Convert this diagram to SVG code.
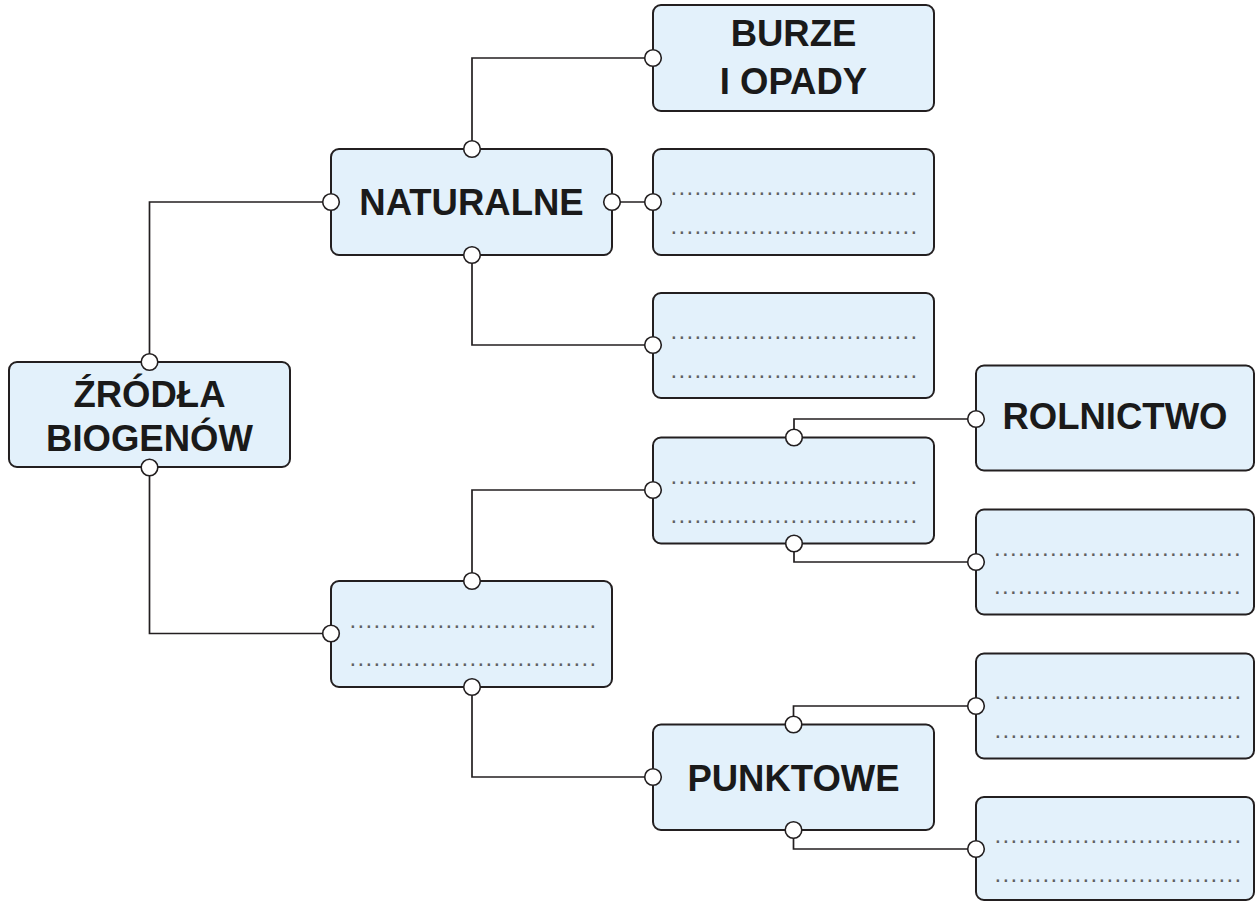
<svg xmlns="http://www.w3.org/2000/svg" width="1255" height="902" viewBox="0 0 1255 902">
<style>
.box{fill:#e3f1fb;stroke:#231f20;stroke-width:2}
.lbl{font-family:"Liberation Sans",Arial,sans-serif;font-weight:bold;font-size:36.5px;fill:#1a1a1a;text-anchor:middle}
.dots{font-family:"Liberation Sans",Arial,sans-serif;font-size:24px;fill:#5f6062;letter-spacing:1.33px}
.ln{fill:none;stroke:#231f20;stroke-width:1.7}
.pt{fill:#fff;stroke:#231f20;stroke-width:1.6}
</style>
<rect width="1255" height="902" fill="#fff"/>
<g id="n-zrodla">
<rect class="box" x="9" y="362" width="281" height="105" rx="8"/>
<text class="lbl" x="149.5" y="407">ŹRÓDŁA</text>
<text class="lbl" x="149.5" y="450.5">BIOGENÓW</text>
</g>
<g id="n-naturalne">
<rect class="box" x="331" y="149" width="281" height="106" rx="8"/>
<text class="lbl" x="471.5" y="214.5">NATURALNE</text>
</g>
<g id="n-burze">
<rect class="box" x="653" y="5" width="281" height="106" rx="8"/>
<text class="lbl" x="793.5" y="46">BURZE</text>
<text class="lbl" x="793.5" y="94">I OPADY</text>
</g>
<g id="n-nat2">
<rect class="box" x="653" y="149" width="281" height="106" rx="8"/>
<text class="dots" x="670.5" y="195">...............................</text>
<text class="dots" x="670.5" y="234">...............................</text>
</g>
<g id="n-nat3">
<rect class="box" x="653" y="293" width="281" height="105" rx="8"/>
<text class="dots" x="670.5" y="339">...............................</text>
<text class="dots" x="670.5" y="378">...............................</text>
</g>
<g id="n-obsz">
<rect class="box" x="653" y="437.5" width="281" height="106" rx="8"/>
<text class="dots" x="670.5" y="483.5">...............................</text>
<text class="dots" x="670.5" y="522.5">...............................</text>
</g>
<g id="n-rolnictwo">
<rect class="box" x="976" y="365.5" width="278" height="105" rx="8"/>
<text class="lbl" x="1115" y="428.5">ROLNICTWO</text>
</g>
<g id="n-obsz2">
<rect class="box" x="976" y="509.5" width="278" height="105" rx="8"/>
<text class="dots" x="994" y="555.5">...............................</text>
<text class="dots" x="994" y="594">...............................</text>
</g>
<g id="n-antrop">
<rect class="box" x="331" y="581" width="281" height="106" rx="8"/>
<text class="dots" x="349.5" y="628">...............................</text>
<text class="dots" x="349.5" y="665.5">...............................</text>
</g>
<g id="n-punktowe">
<rect class="box" x="653" y="724.5" width="281" height="105.5" rx="8"/>
<text class="lbl" x="793.5" y="791">PUNKTOWE</text>
</g>
<g id="n-punkt1">
<rect class="box" x="976" y="653.5" width="278" height="105" rx="8"/>
<text class="dots" x="994.5" y="699">...............................</text>
<text class="dots" x="994.5" y="738">...............................</text>
</g>
<g id="n-punkt2">
<rect class="box" x="976" y="797" width="278" height="103" rx="8"/>
<text class="dots" x="994.5" y="843">...............................</text>
<text class="dots" x="994.5" y="882">...............................</text>
</g>
<g id="connectors">
<polyline class="ln" points="149.5,362 149.5,202 331,202"/>
<polyline class="ln" points="149.5,467.5 149.5,633.5 331,633.5"/>
<polyline class="ln" points="472,149 472,58 653,58"/>
<line class="ln" x1="612" y1="202" x2="653" y2="202"/>
<polyline class="ln" points="472,255 472,345 653,345"/>
<polyline class="ln" points="472,581 472,490 653,490"/>
<polyline class="ln" points="472,687 472,777 653,777"/>
<polyline class="ln" points="794,437.5 794,419 976,419"/>
<polyline class="ln" points="794,543.5 794,562 976,562"/>
<polyline class="ln" points="793.5,724.5 793.5,706 976,706"/>
<polyline class="ln" points="793.5,830 793.5,849 976,849"/>
<circle class="pt" cx="149.5" cy="362" r="8.3"/>
<circle class="pt" cx="149.5" cy="467.5" r="8.3"/>
<circle class="pt" cx="331" cy="202" r="8.3"/>
<circle class="pt" cx="612" cy="202" r="8.3"/>
<circle class="pt" cx="472" cy="149" r="8.3"/>
<circle class="pt" cx="472" cy="255" r="8.3"/>
<circle class="pt" cx="653" cy="58" r="8.3"/>
<circle class="pt" cx="653" cy="202" r="8.3"/>
<circle class="pt" cx="653" cy="345" r="8.3"/>
<circle class="pt" cx="331" cy="633.5" r="8.3"/>
<circle class="pt" cx="472" cy="581" r="8.3"/>
<circle class="pt" cx="472" cy="687" r="8.3"/>
<circle class="pt" cx="653" cy="490" r="8.3"/>
<circle class="pt" cx="653" cy="777" r="8.3"/>
<circle class="pt" cx="794" cy="437.5" r="8.3"/>
<circle class="pt" cx="794" cy="543.5" r="8.3"/>
<circle class="pt" cx="976" cy="419" r="8.3"/>
<circle class="pt" cx="976" cy="562" r="8.3"/>
<circle class="pt" cx="793.5" cy="724.5" r="8.3"/>
<circle class="pt" cx="793.5" cy="830" r="8.3"/>
<circle class="pt" cx="976" cy="706" r="8.3"/>
<circle class="pt" cx="976" cy="849" r="8.3"/>
</g>
</svg>
